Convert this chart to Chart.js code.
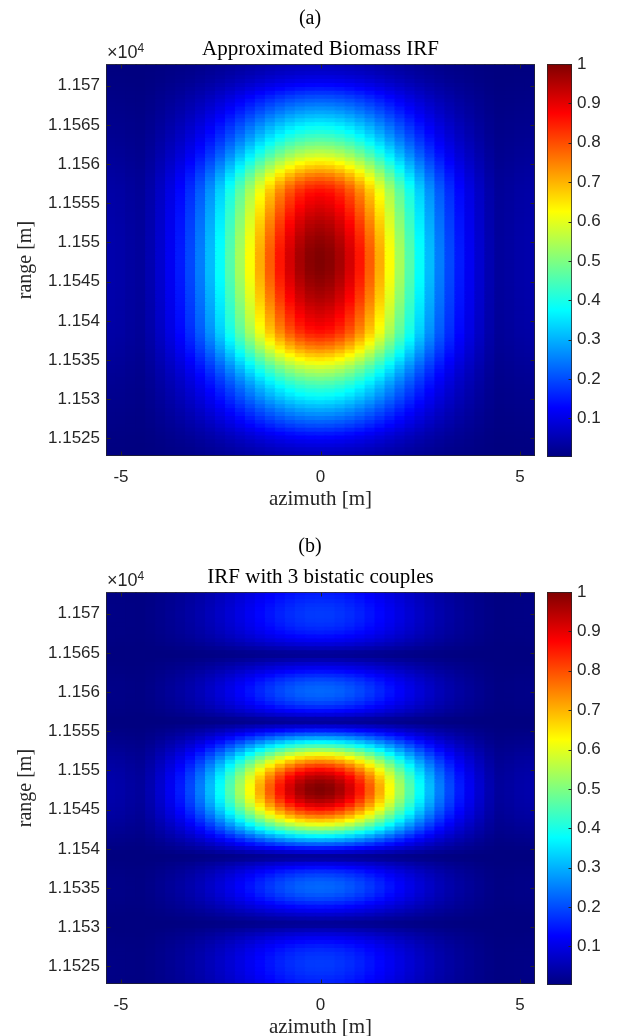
<!DOCTYPE html>
<html>
<head>
<meta charset="utf-8">
<script src="https://cdn.jsdelivr.net/npm/chart.js@4.4.1/dist/chart.umd.min.js"></script>
<style>
html,body{margin:0;padding:0;background:#fff;}
#page{position:relative;width:617px;height:1036px;overflow:hidden;background:#fff;}
canvas{position:absolute;}
.panel-tag{position:absolute;width:60px;text-align:center;font-family:'Liberation Serif','Times New Roman',serif;font-size:20px;color:#000;line-height:24px;}
.mult{position:absolute;font-family:'Liberation Sans',Arial,sans-serif;font-size:18px;color:#262626;line-height:20px;white-space:nowrap;}
.mult sup{font-size:12px;position:relative;top:-4px;vertical-align:top;}
</style>
</head>
<body>
<div id="page">
  <canvas id="heatA" width="617" height="528" style="left:0;top:0;"></canvas>
  <canvas id="barA" width="77" height="528" style="left:540px;top:0;"></canvas>
  <canvas id="heatB" width="617" height="528" style="left:0;top:528px;"></canvas>
  <canvas id="barB" width="77" height="528" style="left:540px;top:528px;"></canvas>
  <div class="panel-tag" style="left:280px;top:5px;">(a)</div>
  <div class="mult" style="left:107px;top:42px;">×10<sup>4</sup></div>
  <div class="panel-tag" style="left:280px;top:533px;">(b)</div>
  <div class="mult" style="left:107px;top:570px;">×10<sup>4</sup></div>
</div>
<script>
// ---------------- data ----------------
const azimuth = [-5.25,-5,-4.75,-4.5,-4.25,-4,-3.75,-3.5,-3.25,-3,-2.75,-2.5,-2.25,-2,-1.75,-1.5,-1.25,-1,-0.75,-0.5,-0.25,0,
  0.25,0.5,0.75,1,1.25,1.5,1.75,2,2.25,2.5,2.75,3,3.25,3.5,3.75,4,4.25,4.5,4.75,5,5.25];
const azimuthProfile = [0.045,0.042,0.035,0.030,0.050,0.080,0.114,0.151,0.196,0.249,0.311,0.381,0.458,0.539,0.623,0.707,0.786,0.857,0.917,0.962,0.990,1.000,
  0.990,0.962,0.917,0.857,0.786,0.707,0.623,0.539,0.458,0.381,0.311,0.249,0.196,0.151,0.114,0.080,0.050,0.030,0.035,0.042,0.045];

const rangeCenters = [
  11523,11523.5,11524,11524.5,11525,11525.5,11526,11526.5,11527,11527.5,
  11528,11528.5,11529,11529.5,11530,11530.5,11531,11531.5,11532,11532.5,
  11533,11533.5,11534,11534.5,11535,11535.5,11536,11536.5,11537,11537.5,
  11538,11538.5,11539,11539.5,11540,11540.5,11541,11541.5,11542,11542.5,
  11543,11543.5,11544,11544.5,11545,11545.5,11546,11546.5,11547,11547.5,
  11548,11548.5,11549,11549.5,11550,11550.5,11551,11551.5,11552,11552.5,
  11553,11553.5,11554,11554.5,11555,11555.5,11556,11556.5,11557,11557.5,
  11558,11558.5,11559,11559.5,11560,11560.5,11561,11561.5,11562,11562.5,
  11563,11563.5,11564,11564.5,11565,11565.5,11566,11566.5,11567,11567.5,
  11568,11568.5,11569,11569.5,11570,11570.5,11571,11571.5,11572,11572.5];

// (a) Approximated Biomass IRF - range profile (bottom to top)
const rangeProfileA = [
  0.070,0.080,0.095,0.110,0.130,0.150,0.175,0.200,0.222,0.245,
  0.268,0.290,0.315,0.340,0.365,0.390,0.410,0.435,0.460,0.490,
  0.520,0.550,0.580,0.615,0.650,0.685,0.720,0.755,0.785,0.815,
  0.840,0.863,0.877,0.890,0.900,0.910,0.920,0.930,0.940,0.950,
  0.958,0.965,0.972,0.980,0.985,0.990,0.995,0.998,0.999,1.000,
  0.999,0.998,0.995,0.990,0.985,0.980,0.972,0.965,0.958,0.950,
  0.940,0.930,0.920,0.910,0.900,0.890,0.877,0.863,0.840,0.815,
  0.785,0.755,0.720,0.685,0.650,0.615,0.580,0.550,0.520,0.490,
  0.460,0.435,0.410,0.390,0.365,0.340,0.315,0.290,0.268,0.245,
  0.222,0.200,0.175,0.150,0.130,0.110,0.095,0.080,0.070,0.060];

// (b) IRF with 3 bistatic couples - range profile (bottom to top)
const rangeProfileB = [
  0.160,0.168,0.175,0.180,0.183,0.183,0.180,0.174,0.165,0.152,
  0.135,0.115,0.090,0.060,0.030,0.025,0.050,0.080,0.110,0.140,
  0.168,0.193,0.212,0.224,0.228,0.224,0.212,0.193,0.168,0.135,
  0.095,0.045,0.030,0.085,0.150,0.220,0.294,0.372,0.451,0.530,
  0.607,0.680,0.750,0.812,0.867,0.914,0.951,0.978,0.995,1.000,
  0.995,0.978,0.951,0.914,0.867,0.812,0.750,0.680,0.607,0.530,
  0.451,0.372,0.294,0.220,0.150,0.085,0.030,0.045,0.095,0.135,
  0.168,0.193,0.212,0.224,0.228,0.224,0.212,0.193,0.168,0.140,
  0.110,0.080,0.050,0.025,0.030,0.060,0.090,0.115,0.135,0.152,
  0.165,0.174,0.180,0.183,0.183,0.180,0.175,0.168,0.160,0.152];

const azimuthLimits = [-5.375, 5.375];
const rangeLimits = [11522.75, 11572.75];
const colorLimits = [0.002, 1];

const xTickValues = [-5, 0, 5];
const xTickLabels = ['-5', '0', '5'];
const yTickValues = [11525,11530,11535,11540,11545,11550,11555,11560,11565,11570];
const yTickLabels = ['1.1525','1.153','1.1535','1.154','1.1545','1.155','1.1555','1.156','1.1565','1.157'];
const cbTickValues = [0.1,0.2,0.3,0.4,0.5,0.6,0.7,0.8,0.9,1];
const cbTickLabels = ['0.1','0.2','0.3','0.4','0.5','0.6','0.7','0.8','0.9','1'];

const titleA = 'Approximated Biomass IRF';
const titleB = 'IRF with 3 bistatic couples';
const xTitle = 'azimuth [m]';
const yTitle = 'range [m]';

// ---------------- styling helpers ----------------
const jetStops = [0, 0.125, 0.375, 0.625, 0.875, 1];
function jetRaw(t) {
  const c = x => Math.max(0, Math.min(1, x));
  const r = c(1.5 - Math.abs(4 * t - 3));
  const g = c(1.5 - Math.abs(4 * t - 2));
  const b = c(1.5 - Math.abs(4 * t - 1));
  return 'rgb(' + Math.round(r * 255) + ',' + Math.round(g * 255) + ',' + Math.round(b * 255) + ')';
}
function jet(v) {
  const t = Math.max(0, Math.min(1, (v - colorLimits[0]) / (colorLimits[1] - colorLimits[0])));
  return jetRaw(t);
}

const AX = '#262626';
const SANS = "'Liberation Sans', Arial, sans-serif";
const SERIF = "'Liberation Serif', 'Times New Roman', serif";

const framePlugin = {
  id: 'frame',
  afterDatasetsDraw(chart, args, opts) {
    const {ctx, chartArea: a} = chart;
    const L = Math.round(a.left) + 0.5, R = Math.round(a.right) - 0.5;
    const T = Math.round(a.top) + 0.5, B = Math.round(a.bottom) - 0.5;
    ctx.save();
    ctx.lineWidth = 1;
    ctx.strokeStyle = opts.tickColor || AX;
    ctx.beginPath();
    const len = opts.tickLen || 4;
    if (opts.xTicks && chart.scales.x) {
      chart.scales.x.ticks.forEach(t => {
        const px = Math.round(chart.scales.x.getPixelForValue(t.value)) + 0.5;
        ctx.moveTo(px, B); ctx.lineTo(px, B - len);
        ctx.moveTo(px, T); ctx.lineTo(px, T + len);
      });
    }
    if (opts.yTicks && chart.scales.y) {
      chart.scales.y.ticks.forEach(t => {
        const py = Math.round(chart.scales.y.getPixelForValue(t.value)) + 0.5;
        if (opts.yTicks !== 'right') { ctx.moveTo(L, py); ctx.lineTo(L + len, py); }
        ctx.moveTo(R, py); ctx.lineTo(R - len, py);
      });
    }
    ctx.stroke();
    ctx.strokeStyle = opts.borderColor || 'rgba(38,38,38,0.75)';
    ctx.strokeRect(L, T, R - L, B - T);
    ctx.restore();
  }
};

function heatChart(canvasId, rangeProfile, title) {
  const half = (rangeCenters[1] - rangeCenters[0]) / 2;
  const datasets = rangeCenters.map((r, j) => ({
    data: azimuth.map(x => ({x: x, y: [r - half, r + half]})),
    backgroundColor: azimuth.map((x, i) => jet(azimuthProfile[i] * rangeProfile[j])),
    borderWidth: 0,
    inflateAmount: 0.8,
    grouped: false,
    barPercentage: 1,
    categoryPercentage: 1
  }));
  return new Chart(document.getElementById(canvasId), {
    type: 'bar',
    data: {datasets},
    plugins: [framePlugin],
    options: {
      responsive: false, animation: false, events: [], devicePixelRatio: 1,
      layout: {padding: {left: 0, top: 37, right: 82, bottom: 16}},
      plugins: {
        legend: {display: false},
        tooltip: {enabled: false},
        title: {display: true, text: title, fullSize: false, color: '#000',
                font: {family: SERIF, size: 21, weight: 'normal'}, padding: {top: 0, bottom: 2}},
        frame: {xTicks: true, yTicks: true, tickLen: 4}
      },
      scales: {
        x: {
          type: 'linear', min: azimuthLimits[0], max: azimuthLimits[1], offset: false,
          grid: {display: false, drawTicks: false, offset: false}, border: {display: false},
          afterBuildTicks: s => { s.ticks = xTickValues.map(v => ({value: v})); },
          afterFit: s => { s.height = 56; },
          ticks: {padding: 11, color: AX, autoSkip: false, maxRotation: 0,
                  font: {family: SANS, size: 17},
                  callback: v => xTickLabels[xTickValues.indexOf(v)]},
          title: {display: true, text: xTitle, color: AX, font: {family: SERIF, size: 21}, padding: 0}
        },
        y: {
          type: 'linear', min: rangeLimits[0], max: rangeLimits[1],
          grid: {display: false, drawTicks: false}, border: {display: false},
          afterBuildTicks: s => { s.ticks = yTickValues.map(v => ({value: v})); },
          afterFit: s => { s.width = 106; },
          ticks: {padding: 6, color: AX, autoSkip: false,
                  font: {family: SANS, size: 17},
                  callback: v => yTickLabels[yTickValues.indexOf(v)]},
          title: {display: true, text: yTitle, color: AX, font: {family: SERIF, size: 20}, padding: {top: 14, bottom: 0}}
        }
      }
    }
  });
}

function colorbarChart(canvasId) {
  return new Chart(document.getElementById(canvasId), {
    type: 'bar',
    data: {
      labels: [''],
      datasets: [{
        data: [colorLimits],
        backgroundColor: c => {
          const ch = c.chart, y = ch.scales.y;
          if (!y || !ch.chartArea) return jetRaw(0.5);
          const g = ch.ctx.createLinearGradient(0, y.getPixelForValue(colorLimits[0]), 0, y.getPixelForValue(colorLimits[1]));
          jetStops.forEach(s => g.addColorStop(s, jetRaw(s)));
          return g;
        },
        borderWidth: 0, barPercentage: 1, categoryPercentage: 1
      }]
    },
    plugins: [framePlugin],
    options: {
      responsive: false, animation: false, events: [], devicePixelRatio: 1,
      layout: {padding: {left: 7, top: 64, right: 0, bottom: 71}},
      plugins: {legend: {display: false}, tooltip: {enabled: false},
                frame: {yTicks: 'right', tickLen: 3}},
      scales: {
        x: {display: false, offset: true},
        y: {
          position: 'right', min: colorLimits[0], max: colorLimits[1],
          grid: {display: false, drawTicks: false}, border: {display: false},
          afterBuildTicks: s => { s.ticks = cbTickValues.map(v => ({value: v})); },
          afterFit: s => { s.width = 45; },
          ticks: {padding: 5, color: AX, autoSkip: false, font: {family: SANS, size: 17},
                  callback: v => cbTickLabels[cbTickValues.indexOf(v)]}
        }
      }
    }
  });
}

heatChart('heatA', rangeProfileA, titleA);
colorbarChart('barA');
heatChart('heatB', rangeProfileB, titleB);
colorbarChart('barB');
</script>
</body>
</html>
